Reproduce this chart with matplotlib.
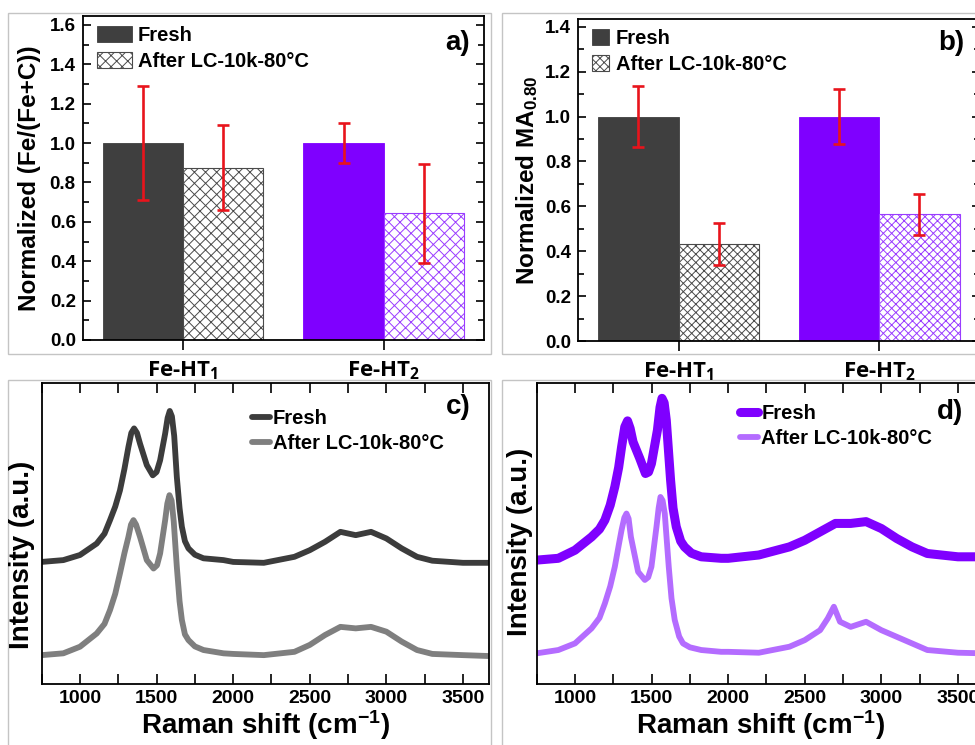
import matplotlib

matplotlib.use("Agg")

import matplotlib.pyplot as plt
import numpy as np
from matplotlib.patches import Rectangle
from matplotlib.ticker import MultipleLocator

# bar panels: normalized values with error bars
categories = ["Fe-HT$_1$", "Fe-HT$_2$"]
fresh_fe_ratio = [1.0, 1.0]
fresh_fe_ratio_err = [0.29, 0.10]
aged_fe_ratio = [0.875, 0.643]
aged_fe_ratio_err = [0.215, 0.25]
fresh_ma = [1.0, 1.0]
fresh_ma_err = [0.135, 0.122]
aged_ma = [0.432, 0.564]
aged_ma_err = [0.095, 0.09]

# Raman spectra, Fe-HT1 (panel c) and Fe-HT2 (panel d), offset traces
c_fresh_shift = [750, 891, 1000, 1109, 1160, 1196, 1230, 1261, 1290, 1316, 1335, 1353, 1372, 1392,
                 1436, 1475, 1500, 1523, 1556, 1572, 1586, 1600, 1615, 1632, 1650, 1665, 1685, 1708,
                 1750, 1806, 1937, 2000, 2200, 2400, 2500, 2600, 2700, 2800, 2900, 3000, 3100, 3200,
                 3300, 3500, 3670]
c_fresh_int = [40.6, 41.2, 42.9, 46.7, 50.0, 54.5, 59.0, 64.4, 71.5, 78.8, 83.5, 85.0, 83.5, 79.9,
               72.8, 69.4, 70.5, 74.4, 83.3, 88.5, 90.8, 89.0, 82.5, 68.9, 58.5, 52.3, 47.5, 45.1,
               43.0, 41.8, 41.2, 40.6, 40.3, 42.3, 44.5, 47.3, 50.6, 49.5, 50.6, 48.4, 45.1, 42.3,
               41.0, 40.3, 40.3]
c_aged_shift = [750, 891, 1000, 1109, 1160, 1196, 1230, 1261, 1290, 1316, 1333, 1349, 1366, 1392,
                1436, 1480, 1503, 1523, 1556, 1570, 1584, 1598, 1612, 1632, 1650, 1665, 1685, 1708,
                1750, 1806, 1937, 2000, 2200, 2400, 2500, 2600, 2700, 2800, 2900, 3000, 3100, 3200,
                3300, 3500, 3670]
c_aged_int = [9.6, 10.2, 12.4, 16.8, 20.0, 24.6, 30.0, 36.8, 43.5, 48.9, 53.0, 54.5, 53.0, 48.9,
              41.2, 38.4, 39.5, 43.4, 54.5, 60.0, 62.8, 61.0, 54.0, 39.0, 27.5, 21.3, 16.5, 14.6,
              12.5, 11.3, 10.2, 10.0, 9.6, 10.7, 13.0, 16.3, 19.0, 18.5, 19.0, 17.4, 14.1, 11.3,
              10.0, 9.6, 9.3]
d_fresh_shift = [750, 891, 1000, 1108, 1160, 1195, 1230, 1260, 1285, 1304, 1325, 1343, 1360, 1379,
                 1423, 1460, 1480, 1499, 1538, 1555, 1568, 1582, 1596, 1624, 1640, 1661, 1690, 1715,
                 1760, 1824, 1954, 2000, 2200, 2400, 2500, 2600, 2700, 2800, 2900, 3000, 3100, 3200,
                 3300, 3500, 3670]
d_fresh_int = [41.2, 41.8, 44.5, 48.9, 51.5, 54.5, 59.5, 65.6, 72.0, 78.8, 85.5, 87.5, 85.0, 80.5,
               75.0, 70.0, 70.5, 73.3, 84.4, 92.0, 95.0, 93.5, 87.7, 67.8, 58.5, 52.3, 47.5, 45.6,
               43.5, 42.3, 41.8, 41.8, 42.9, 45.6, 47.8, 50.6, 53.4, 53.4, 54.0, 51.7, 48.4, 45.6,
               43.4, 42.3, 42.3]
d_aged_shift = [750, 891, 1000, 1108, 1160, 1195, 1230, 1260, 1285, 1304, 1322, 1336, 1350, 1365,
                1412, 1456, 1478, 1499, 1532, 1546, 1558, 1572, 1586, 1612, 1630, 1651, 1680, 1705,
                1750, 1824, 1954, 2000, 2200, 2400, 2500, 2600, 2650, 2690, 2730, 2800, 2900, 3000,
                3100, 3200, 3300, 3500, 3670]
d_aged_int = [10.2, 11.3, 13.5, 18.5, 22.0, 26.8, 32.5, 39.0, 46.0, 51.2, 55.3, 56.7, 55.0, 48.9,
              37.3, 34.6, 35.5, 39.0, 52.3, 58.5, 62.2, 61.0, 56.7, 39.0, 28.5, 21.3, 15.8, 13.5,
              12.2, 11.3, 10.7, 10.7, 10.4, 12.4, 14.6, 17.9, 21.8, 25.7, 20.7, 19.0, 20.7, 17.9,
              15.7, 13.5, 11.3, 10.4, 10.2]

FRESH_COLORS = ["#3f3f3f", "#7f00ff"]
AGED_EDGES = ["#4a4a4a", "#9a3cff"]
ERR_RED = "#e8141c"
FRAME_GRAY = "#c4c4c4"
LEGEND_LABELS = ["Fresh", "After LC-10k-80\u00b0C"]

W, H = 975, 745

plt.rcParams.update(
    {
        "font.family": ["Liberation Sans", "DejaVu Sans"],
        "font.weight": "bold",
        "axes.labelweight": "bold",
        "mathtext.default": "regular",
        "hatch.linewidth": 0.7,
        "axes.linewidth": 1.3,
    }
)


def px_box(left, top, right, bottom):
    return [left / W, 1 - bottom / H, (right - left) / W, (bottom - top) / H]


def add_frame(fig, left, top, right, bottom):
    fig.add_artist(
        Rectangle(
            (left / W, 1 - bottom / H),
            (right - left) / W,
            (bottom - top) / H,
            transform=fig.transFigure,
            fill=False,
            edgecolor=FRAME_GRAY,
            linewidth=1.0,
            zorder=0,
        )
    )


def draw_bars(ax, fresh, fresh_err, aged, aged_err, hatch, ylim, ylabel, label_x):
    x = np.arange(1, len(categories) + 1)
    width = 0.4
    ax.bar(x - width / 2, fresh, width, color=FRESH_COLORS, edgecolor=FRESH_COLORS,
           linewidth=0.6, label=LEGEND_LABELS[0], zorder=2)
    ax.bar(x + width / 2, aged, width, color="white", edgecolor=AGED_EDGES,
           hatch=hatch, linewidth=0.8, label=LEGEND_LABELS[1], zorder=2)
    for xs, ys, es in ((x - width / 2, fresh, fresh_err), (x + width / 2, aged, aged_err)):
        ax.errorbar(xs, ys, yerr=es, fmt="none", ecolor=ERR_RED, elinewidth=1.9,
                    capsize=4.3, capthick=1.9, zorder=3)
    ax.set_xlim(0.5, 2.5)
    ax.set_ylim(*ylim)
    ax.set_xticks(x)
    ax.set_xticklabels(categories, fontfamily="Open Sans", fontsize=16, fontweight="bold")
    ax.yaxis.set_major_locator(MultipleLocator(0.2))
    ax.yaxis.set_minor_locator(MultipleLocator(0.1))
    ax.yaxis.set_major_formatter(plt.FormatStrFormatter("%.1f"))
    ax.tick_params(axis="y", which="both", direction="in", left=True, right=True,
                   labelsize=13.5, width=1.2, pad=5)
    ax.tick_params(axis="y", which="major", length=6)
    ax.tick_params(axis="y", which="minor", length=4)
    ax.tick_params(axis="x", direction="out", length=7, width=1.2, pad=7, top=False)
    ax.set_ylabel(ylabel, fontsize=17.5)
    ax.yaxis.set_label_coords(label_x, 0.5)


def draw_spectra(ax, series, ylabel_pos):
    for shift, inten, color, lw, label in series:
        ax.plot(shift, inten, color=color, linewidth=lw, solid_capstyle="round",
                solid_joinstyle="round", label=label)
    ax.set_xlim(750, 3670)
    ax.set_ylim(0, 100)
    ax.xaxis.set_major_locator(MultipleLocator(500))
    ax.xaxis.set_minor_locator(MultipleLocator(250))
    ax.set_yticks([])
    ax.tick_params(axis="x", which="both", direction="in", top=True, bottom=True,
                   length=7, width=1.2, labelsize=14, pad=4)
    ax.set_xlabel("Raman shift (cm$^{-1}$)", fontsize=20, labelpad=1)
    ax.set_ylabel("Intensity (a.u.)", fontsize=20)
    ax.yaxis.set_label_coords(*ylabel_pos)


fig = plt.figure(figsize=(W / 100, H / 100), dpi=100)
fig.patch.set_facecolor("white")

add_frame(fig, 8, 12.7, 490.7, 354)
add_frame(fig, 502.3, 12.7, 1000, 354)
add_frame(fig, 8, 380, 490.7, 760)
add_frame(fig, 502.3, 380, 1000, 760)

ax_a = fig.add_axes(px_box(82.7, 16, 484, 340))
ax_b = fig.add_axes(px_box(578.3, 19, 979.6, 341))
ax_c = fig.add_axes(px_box(41.7, 383.3, 489, 684))
ax_d = fig.add_axes(px_box(536.7, 383.3, 984, 684))

draw_bars(ax_a, fresh_fe_ratio, fresh_fe_ratio_err, aged_fe_ratio, aged_fe_ratio_err,
          "xxx", (0, 1.645), "Normalized (Fe/(Fe+C))", -0.104)
draw_bars(ax_b, fresh_ma, fresh_ma_err, aged_ma, aged_ma_err,
          "xxxx", (0, 1.435), "Normalized MA$_{0.80}$", -0.095)

ax_a.legend(loc="upper left", bbox_to_anchor=(0.015, 0.995), frameon=False, fontsize=14.5,
            handlelength=1.75, handleheight=0.85, handletextpad=0.3, labelspacing=0.35,
            borderaxespad=0.2, borderpad=0.2)
ax_b.legend(loc="upper left", bbox_to_anchor=(0.015, 0.995), frameon=False, fontsize=14.5,
            handlelength=0.85, handleheight=0.85, handletextpad=0.3, labelspacing=0.35,
            borderaxespad=0.2, borderpad=0.2)

draw_spectra(ax_c, [(c_fresh_shift, c_fresh_int, "#3c3c3c", 4.2, LEGEND_LABELS[0]),
                    (c_aged_shift, c_aged_int, "#7f7f7f", 4.2, LEGEND_LABELS[1])],
             (-0.015, 0.43))
draw_spectra(ax_d, [(d_fresh_shift, d_fresh_int, "#7f00ff", 6.5, LEGEND_LABELS[0]),
                    (d_aged_shift, d_aged_int, "#b46cff", 4.2, LEGEND_LABELS[1])],
             (-0.008, 0.473))

for ax, anchor in ((ax_c, (0.47, 0.915)), (ax_d, (0.455, 0.93))):
    ax.legend(loc="upper left", bbox_to_anchor=anchor, frameon=False, fontsize=14.5,
              handlelength=0.9, handletextpad=0.15, labelspacing=0.3,
              borderaxespad=0.0, borderpad=0.0)

for label, (px, py) in (("a)", (458, 43)), ("b)", (951, 43)), ("c)", (458, 407)), ("d)", (950, 412))):
    fig.text(px / W, 1 - py / H, label, fontsize=20, fontweight="bold",
             ha="center", va="center")

fig.savefig("out.png", dpi=100, facecolor="white")
plt.close(fig)
